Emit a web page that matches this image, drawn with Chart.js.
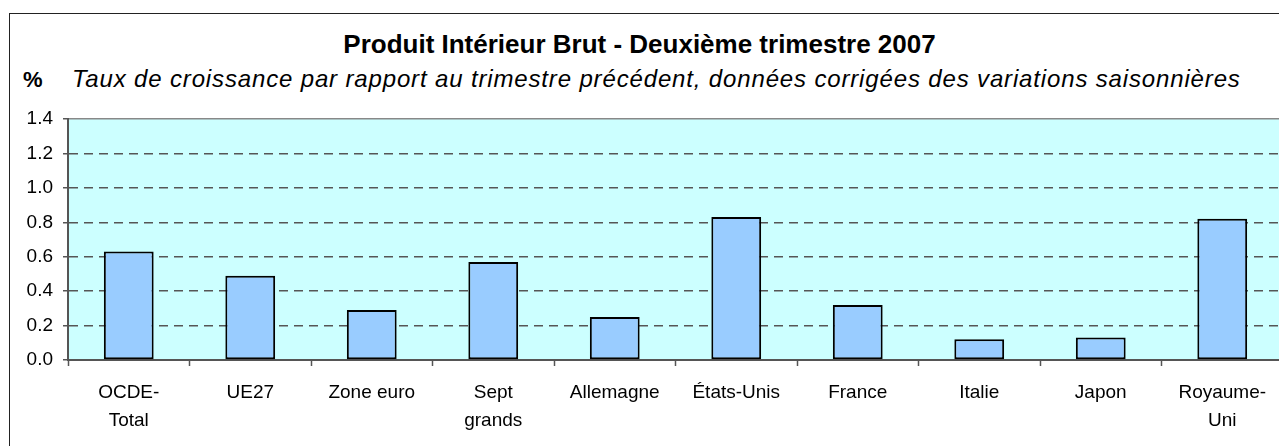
<!DOCTYPE html>
<html>
<head>
<meta charset="utf-8">
<script src="https://cdn.jsdelivr.net/npm/chart.js@4.4.0/dist/chart.umd.min.js"></script>
<style>
    body {
        margin: 0;
        overflow: hidden;
        width: 1279px;
        height: 446px;
        background: #fff;
        font-family: 'Liberation Sans', Arial, sans-serif;
    }

    .frame {
        position: absolute;
        left: 9px;
        top: 13px;
        width: 1300px;
        height: 500px;
        border: 1px solid #222;
    }

    .title {
        position: absolute;
        left: 0;
        top: 31px;
        width: 1279px;
        text-align: center;
        font-size: 26px;
        line-height: 1;
        font-weight: bold;
        color: #000;
        white-space: nowrap;
    }

    .percent {
        position: absolute;
        left: 23px;
        top: 69px;
        font-size: 22px;
        line-height: 1;
        font-weight: bold;
    }

    .subtitle {
        position: absolute;
        left: 72px;
        top: 67px;
        font-size: 24px;
        letter-spacing: 0.85px;
        line-height: 1;
        font-style: italic;
        white-space: nowrap;
    }

    .chartBox {
        position: absolute;
        left: 0;
        top: 0;
        width: 1290px;
        height: 446px;
    }
</style>
</head>
<body>
<div class="frame"></div>
<div class="title">Produit Intérieur Brut - Deuxième trimestre 2007</div>
<div class="percent">%</div>
<div class="subtitle">Taux de croissance par rapport au trimestre précédent, données corrigées des variations saisonnières</div>
<div class="chartBox"><canvas id="myChart"></canvas></div>

<script>
let countries = [
    ['OCDE-', 'Total'],
    'UE27',
    'Zone euro',
    ['Sept', 'grands'],
    'Allemagne',
    'États-Unis',
    'France',
    'Italie',
    'Japon',
    ['Royaume-', 'Uni']
];
let growth = [0.63, 0.49, 0.29, 0.57, 0.25, 0.83, 0.32, 0.12, 0.13, 0.82];
let yTicks = [0.0, 0.2, 0.4, 0.6, 0.8, 1.0, 1.2, 1.4];


// fills the plot area in light cyan before anything else is drawn
const plotBackground = {
    id: 'plotBackground',
    beforeDraw(chart) {
        let ctx = chart.ctx;
        let area = chart.chartArea;
        ctx.save();
        ctx.fillStyle = '#ccffff';
        ctx.fillRect(area.left, area.top, area.right - area.left, area.bottom - area.top);
        ctx.restore();
    }
};


function chart() {
    const data = {
        labels: countries,
        datasets: [{
            data: growth,
            backgroundColor: '#99ccff',
            borderColor: '#000',
            borderWidth: 2,
            borderSkipped: false,
            categoryPercentage: 1,
            barPercentage: 0.41
        }]
    };

    const config = {
        type: 'bar',
        data: data,
        plugins: [plotBackground],
        options: {
            responsive: true,
            maintainAspectRatio: false,
            animation: false,
            layout: {
                padding: { left: 0, top: 119, right: 7, bottom: 0 }
            },
            plugins: {
                legend: { display: false },
                tooltip: { enabled: false }
            },
            scales: {
                x: {
                    afterFit: (scale) => { scale.height = 86; },
                    grid: {
                        offset: true,
                        drawOnChartArea: false,
                        drawTicks: true,
                        tickLength: 6,
                        tickColor: '#555',
                        tickWidth: 1.5
                    },
                    border: { color: '#555', width: 2 },
                    ticks: {
                        color: '#000',
                        padding: 13,
                        maxRotation: 0,
                        autoSkip: false,
                        font: { family: "'Liberation Sans', Arial, sans-serif", size: 19, lineHeight: '28px' }
                    }
                },
                y: {
                    min: 0,
                    max: 1.4,
                    afterFit: (scale) => { scale.width = 68; },
                    afterBuildTicks: (scale) => {
                        scale.ticks = yTicks.map(v => ({ value: v }));
                    },
                    grid: {
                        color: (c) => c.tick && c.tick.value === 1.4 ? '#888' : '#555',
                        lineWidth: 1.5,
                        tickLength: 5,
                        tickColor: '#555',
                        tickWidth: 1.5,
                        tickBorderDash: []
                    },
                    border: {
                        color: '#555',
                        width: 2,
                        dash: (c) => c.tick && c.tick.value === 1.4 ? [] : [9, 6]
                    },
                    ticks: {
                        color: '#000',
                        padding: 10,
                        font: { family: "'Liberation Sans', Arial, sans-serif", size: 19 },
                        callback: (v) => Number(v).toFixed(1)
                    }
                }
            }
        }
    };

    myChart = new Chart(document.getElementById('myChart'), config);
}

let myChart = null;
chart();
</script>
</body>
</html>
